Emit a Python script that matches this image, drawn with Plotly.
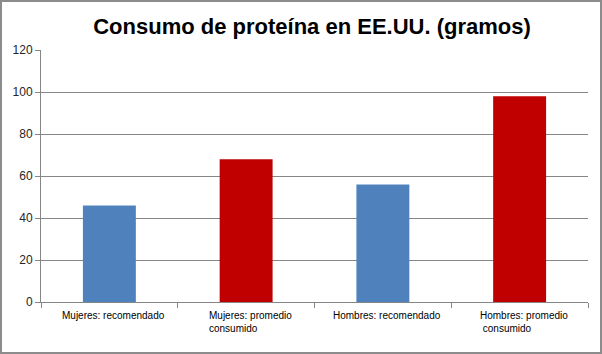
import plotly.graph_objects as go

categories = ["Mujeres: recomendado", "Mujeres: promedio consumido",
              "Hombres: recomendado", "Hombres: promedio consumido"]
label_text = ["Mujeres: recomendado", "Mujeres: promedio<br>consumido",
              "Hombres: recomendado", "Hombres: promedio<br> consumido"]
values = [46, 68, 56, 98]
bar_colors = ["#4F81BD", "#C00000", "#4F81BD", "#C00000"]
y_ticks = [0, 20, 40, 60, 80, 100, 120]
title = "Consumo de proteína en EE.UU. (gramos)"

W, H = 602, 354
ml, mr, mt, mb = 41, 14, 50, 52
pw, ph = W - ml - mr, H - mt - mb

fig = go.Figure(go.Bar(x=categories, y=values, marker=dict(color=bar_colors, line=dict(width=0)),
                       hoverinfo="skip"))

annotations = []
for c, t in zip(categories, label_text):
    annotations.append(dict(x=c, y=0, xref="x", yref="y", text=t, showarrow=False,
                            xanchor="center", yanchor="top", align="left", yshift=-6, xshift=4,
                            font=dict(family="Liberation Sans, Arial", size=10, color="#000000")))

fig.update_layout(
    width=W, height=H,
    margin=dict(l=ml, r=mr, t=mt, b=mb, pad=0),
    paper_bgcolor="white", plot_bgcolor="white",
    bargap=0.613,
    showlegend=False,
    title=dict(text="<b>" + title + "</b>", x=312 / W, xref="container", xanchor="center",
               y=1 - 26 / H, yref="container", yanchor="middle",
               font=dict(family="Liberation Sans, Arial", size=22, color="#000000")),
    xaxis=dict(type="category", showticklabels=False, showgrid=False,
               showline=True, linecolor="#868686", linewidth=1,
               ticks="outside", tickson="boundaries", ticklen=5, tickcolor="#868686",
               fixedrange=True),
    yaxis=dict(range=[0, 120], tickvals=y_ticks, showgrid=True, gridcolor="#868686", gridwidth=1,
               showline=True, linecolor="#868686", linewidth=1,
               ticks="outside", ticklen=5, tickcolor="#868686", zeroline=False,
               tickfont=dict(family="Liberation Sans, Arial", size=12, color="#262626"),
               fixedrange=True),
    annotations=annotations,
    shapes=[dict(type="rect", xref="paper", yref="paper",
                 x0=-(ml - 1) / pw, x1=1 + (mr - 1) / pw,
                 y0=-(mb - 1) / ph, y1=1 + (mt - 1) / ph,
                 line=dict(color="#8C8C8C", width=2), fillcolor="rgba(0,0,0,0)", layer="above")],
)

fig.write_html("out.html", config={"displayModeBar": False})
